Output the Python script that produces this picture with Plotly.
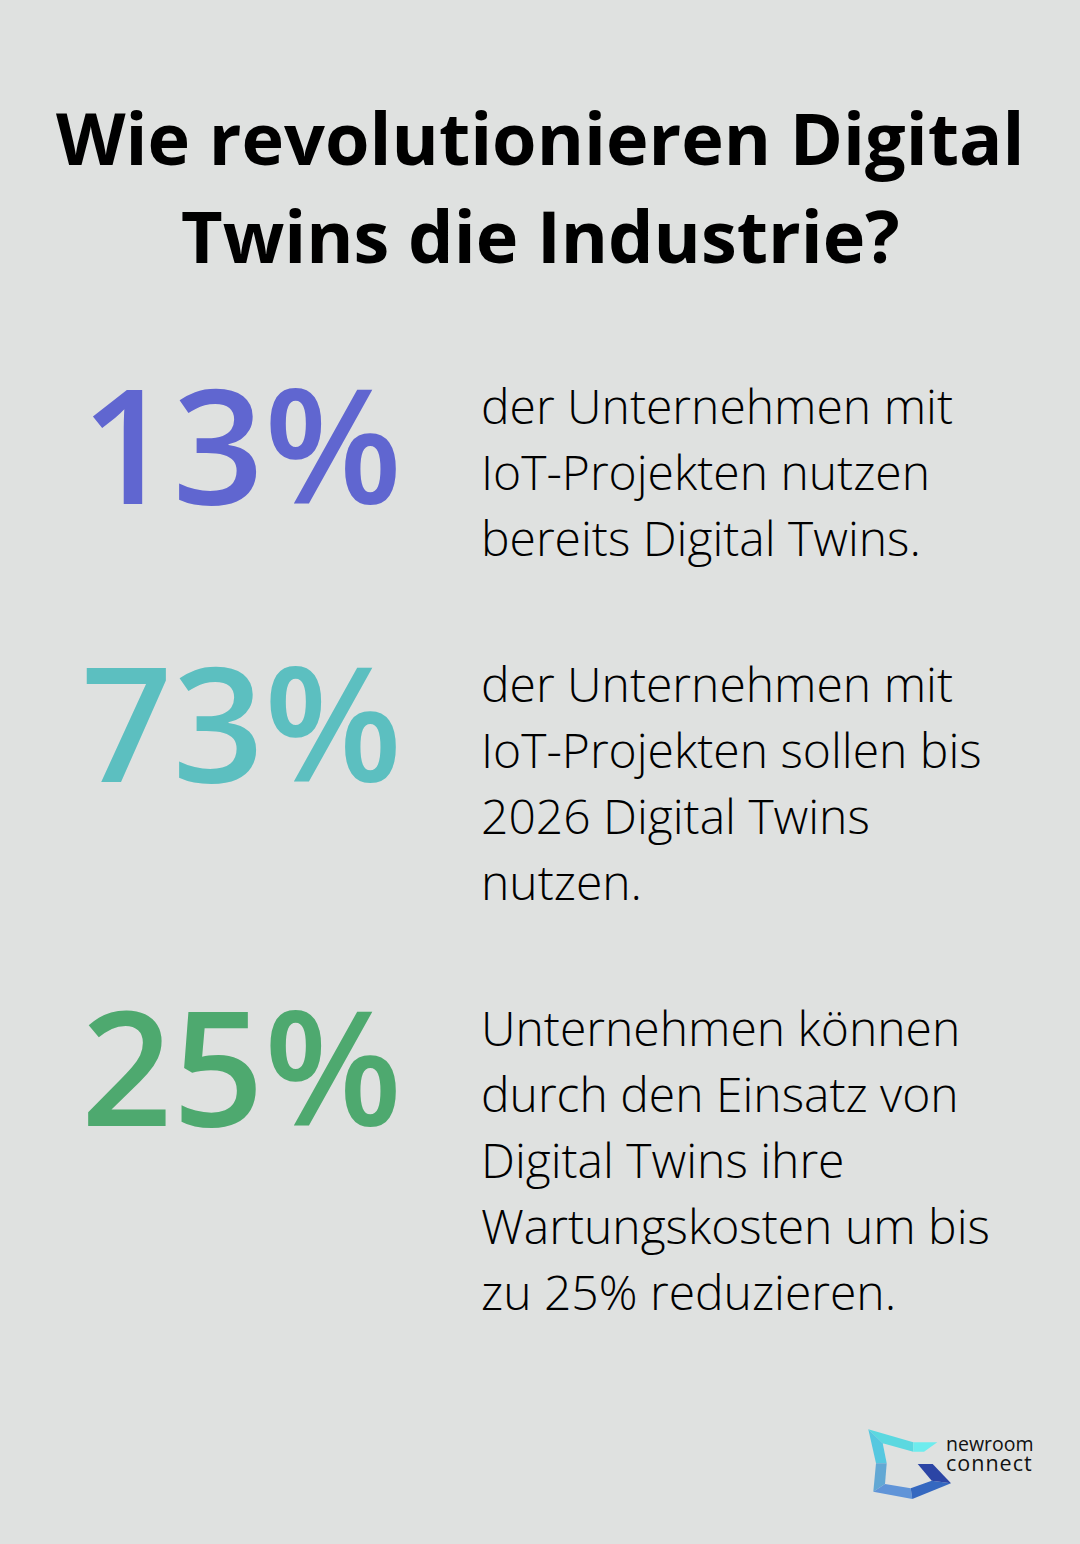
import plotly.graph_objects as go

# Texte
title_lines = ['Wie revolutionieren Digital', 'Twins die Industrie?']
stats = ['13%', '73%', '25%']
stat_colors = ['#6066d0', '#5cbfc0', '#4ea96f']
descriptions = [
    ['der Unternehmen mit', 'IoT-Projekten nutzen', 'bereits Digital Twins.'],
    ['der Unternehmen mit', 'IoT-Projekten sollen bis', '2026 Digital Twins', 'nutzen.'],
    ['Unternehmen können', 'durch den Einsatz von', 'Digital Twins ihre', 'Wartungskosten um bis', 'zu 25% reduzieren.'],
]
logo_lines = ['newroom', 'connect']
logo_sizes = [19.5, 21.5]
logo_spacing = [0, 1]

# Positionen (Pixel)
title_y = [136.5, 234.5]
stat_y = [442, 720, 1064]
desc_y = [405, 683, 1027]
line_height = 66

# Logo-Flaechen
logo_parts = [
    ('M 868.3 1429.3 L 913.3 1442.3 L 913.3 1451.7 L 882.7 1443.3 Z', '#5bd8e0'),
    ('M 913.3 1442.3 L 937.3 1442.3 L 924 1451.7 L 913.3 1451.7 Z', '#6eecee'),
    ('M 868.3 1429.3 L 882.7 1443.3 L 886.7 1463.3 L 876 1463.3 Z', '#55c8e0'),
    ('M 876 1463.3 L 886.7 1463.3 L 885 1484 L 873.3 1491.7 Z', '#62a8d4'),
    ('M 873.3 1491.7 L 885 1484 L 910.7 1488.3 L 912.3 1499 Z', '#6094d8'),
    ('M 912.3 1499 L 910.7 1488.3 L 931.7 1480.7 L 951 1483.3 Z', '#3568c0'),
    ('M 917.7 1464 L 932.7 1464 L 951 1483.3 L 931.7 1480.7 Z', '#2c45a5'),
]

fig = go.Figure()

for i, line in enumerate(title_lines):
    fig.add_annotation(x=540, y=title_y[i], text=line, xanchor='center', yanchor='middle',
                       font=dict(family='Open Sans', size=72, color='#000000', weight=700))

for i, stat in enumerate(stats):
    fig.add_annotation(x=403, y=stat_y[i], text=stat, xanchor='right', yanchor='middle',
                       font=dict(family='Open Sans', size=160, color=stat_colors[i], weight=600))
    for j, line in enumerate(descriptions[i]):
        fig.add_annotation(x=480, y=desc_y[i] + j * line_height, text=line, xanchor='left', yanchor='middle',
                           font=dict(family='Open Sans', size=48, color='#000000', weight=300))

# Logo-Schrift als ein Textblock, Zeilenabstand kommt von size
logo_text = '<br>'.join(
    f'<span style="font-size:{s}px;letter-spacing:{ls}px">{t}</span>'
    for t, s, ls in zip(logo_lines, logo_sizes, logo_spacing)
)
fig.add_annotation(x=945, y=1453.5, text=logo_text, xanchor='left', yanchor='middle', align='left',
                   font=dict(family='Open Sans', size=15, color='#111111'))

for path, color in logo_parts:
    fig.add_shape(type='path', path=path, fillcolor=color, line_width=0, layer='above')

for ann in fig.layout.annotations:
    ann.showarrow = False
    ann.borderpad = 0

fig.update_xaxes(range=[0, 1080], visible=False, fixedrange=True)
fig.update_yaxes(range=[1544, 0], visible=False, fixedrange=True)
fig.update_layout(
    width=1080,
    height=1544,
    margin=dict(l=0, r=0, t=0, b=0),
    paper_bgcolor='#dfe1e0',
    plot_bgcolor='#dfe1e0',
    showlegend=False,
)

fig.write_html('out.html', config={'displayModeBar': False},
               post_script="document.body.style.margin='0';document.body.style.background='#dfe1e0';")
